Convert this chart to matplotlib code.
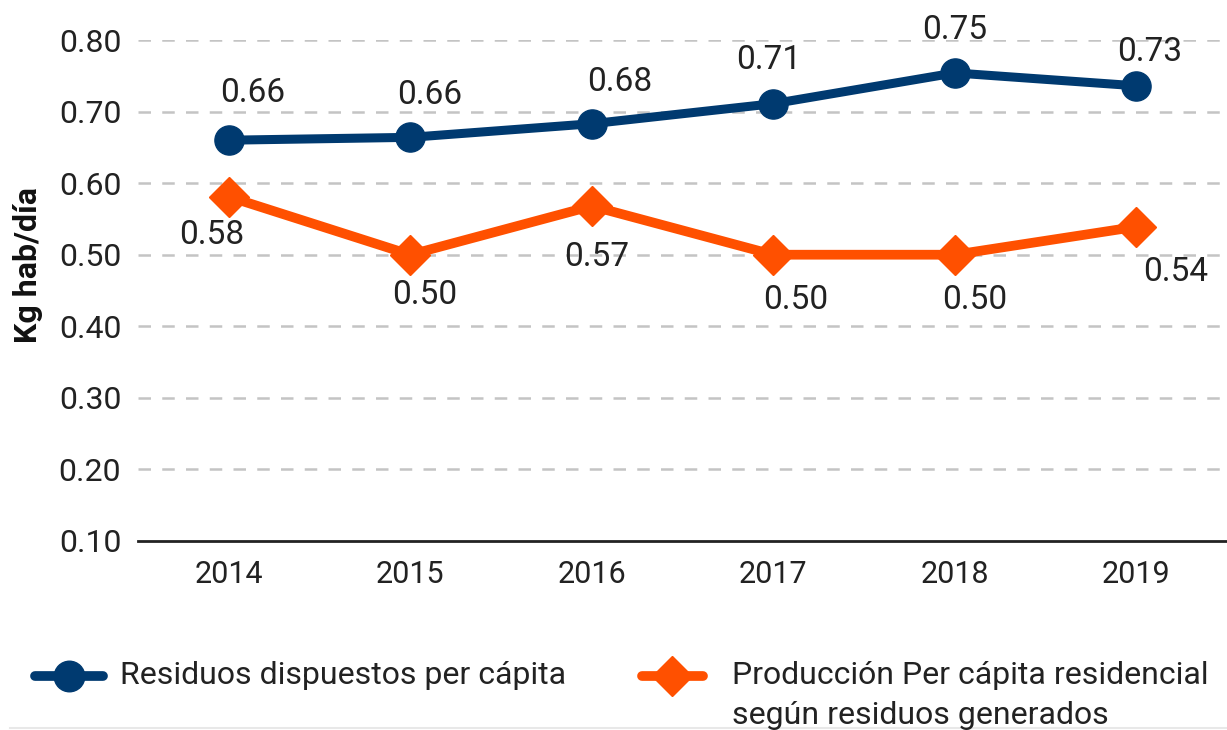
import matplotlib.pyplot as plt
from matplotlib.lines import Line2D

plt.rcParams['font.family'] = ['Roboto', 'DejaVu Sans']

years = ["2014", "2015", "2016", "2017", "2018", "2019"]
dispuestos = [0.66, 0.664, 0.683, 0.711, 0.754, 0.736]
produccion = [0.581, 0.50, 0.568, 0.50, 0.50, 0.539]
disp_labels = ["0.66", "0.66", "0.68", "0.71", "0.75", "0.73"]
prod_labels = ["0.58", "0.50", "0.57", "0.50", "0.50", "0.54"]
yticks = [0.10, 0.20, 0.30, 0.40, 0.50, 0.60, 0.70, 0.80]

# label offsets in pixels (dx, dy)
disp_off = [(24, 47), (19, 42), (28, 42), (-5, 44), (0, 43), (13, 34)]
prod_off = [(-17, -38), (14, -40), (5, -51), (22, -45), (20, -45), (39, -45)]

blue = "#003a70"
orange = "#ff5000"
txt = "#222222"

fig = plt.figure(figsize=(12.27, 7.30), dpi=100)
ax = fig.add_axes([138/1227, 1-541/730, 1-138/1227, (541-40)/730])

x = list(range(len(years)))
ax.plot(x, dispuestos, color=blue, lw=6.5, marker="o", ms=21, clip_on=False, zorder=3)
ax.plot(x, produccion, color=orange, lw=7, marker="D", ms=20, clip_on=False, zorder=3)

for i in x:
    ax.annotate(disp_labels[i], (i, dispuestos[i]), xytext=disp_off[i],
                textcoords="offset pixels", ha="center", va="center",
                fontsize=24, color=txt)
    ax.annotate(prod_labels[i], (i, produccion[i]), xytext=prod_off[i],
                textcoords="offset pixels", ha="center", va="center",
                fontsize=24, color=txt)

ax.set_xlim(-0.5, 5.5)
ax.set_ylim(0.10, 0.80)
ax.set_yticks(yticks)
ax.set_yticklabels([f"{v:.2f}" for v in yticks])
ax.set_xticks(x)
ax.set_xticklabels(years)
ax.tick_params(axis="y", length=0, labelsize=23, labelcolor=txt, pad=12)
ax.tick_params(axis="x", length=0, labelsize=22, labelcolor=txt, pad=14)

for v in yticks[1:]:
    ax.axhline(v, color="#c4c4c4", lw=1.8, ls=(0, (5, 4.5)), zorder=1)

for s in ["top", "right", "left"]:
    ax.spines[s].set_visible(False)
ax.spines["bottom"].set_color("#222222")
ax.spines["bottom"].set_linewidth(2)

fig.text(28/1227, 1-265/730, "Kg hab/día", rotation=90, ha="center", va="center",
         fontsize=23, fontweight="bold", color="#111111")

# legend
fig.add_artist(Line2D([35/1227, 103/1227], [1-676/730]*2, color=blue, lw=7,
                      solid_capstyle="round", transform=fig.transFigure))
fig.add_artist(Line2D([69/1227], [1-676/730], color=blue, marker="o", ms=22,
                      transform=fig.transFigure))
fig.text(120/1227, 1-676/730, "Residuos dispuestos per cápita", ha="left", va="center",
         fontsize=23, color=txt)

fig.add_artist(Line2D([642/1227, 703/1227], [1-676/730]*2, color=orange, lw=7,
                      solid_capstyle="round", transform=fig.transFigure))
fig.add_artist(Line2D([672/1227], [1-676/730], color=orange, marker="D", ms=20,
                      transform=fig.transFigure))
fig.text(732/1227, 1-676/730, "Producción Per cápita residencial", ha="left", va="center",
         fontsize=23, color=txt)
fig.text(732/1227, 1-716/730, "según residuos generados", ha="left", va="center",
         fontsize=23, color=txt)

fig.add_artist(Line2D([10/1227, 1], [1-728/730]*2, color="#e8e8e8", lw=1.5,
                      transform=fig.transFigure))

fig.savefig("out.png", dpi=100)
plt.close()
